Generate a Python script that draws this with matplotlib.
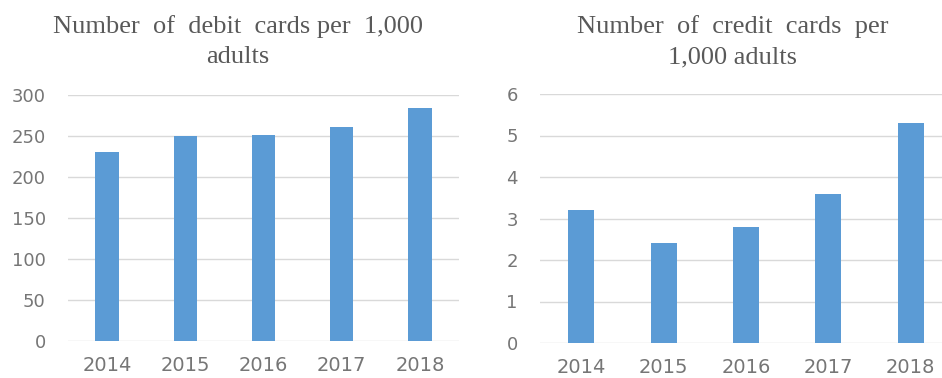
import matplotlib.pyplot as plt

# data
years = ["2014", "2015", "2016", "2017", "2018"]
debit_cards = [230, 250, 251, 261, 284]
credit_cards = [3.2, 2.4, 2.8, 3.6, 5.3]

debit_ticks = [0, 50, 100, 150, 200, 250, 300]
credit_ticks = [0, 1, 2, 3, 4, 5, 6]

debit_title = ["Number  of  debit  cards per  1,000", "adults"]
credit_title = ["Number  of  credit  cards  per", "1,000 adults"]

bar_color = "#5b9bd5"
grid_color = "#d9d9d9"
tick_color = "#767676"
title_color = "#595959"

W, H = 942, 378
fig = plt.figure(figsize=(W / 100, H / 100), dpi=100)


def px_axes(x0, x1, y_top, y_bot):
    return fig.add_axes([x0 / W, 1 - y_bot / H, (x1 - x0) / W, (y_bot - y_top) / H])


def draw_panel(ax, values, ticks, bar_w):
    x = range(len(years))
    ax.bar(x, values, width=bar_w, color=bar_color, zorder=3)
    ax.set_xlim(-0.5, len(years) - 0.5)
    ax.set_ylim(ticks[0], ticks[-1])
    ax.set_yticks(ticks)
    ax.set_xticks(list(x))
    ax.set_xticklabels(years)
    ax.yaxis.grid(True, color=grid_color, linewidth=1.0, zorder=0)
    for s in ax.spines.values():
        s.set_visible(False)
    ax.tick_params(axis="both", length=0, colors=tick_color, labelsize=13)
    ax.tick_params(axis="y", pad=16)
    ax.tick_params(axis="x", pad=11, labelsize=14)


def draw_title(xc, lines):
    for line, base in zip(lines, [33, 63]):
        fig.text(xc / W, 1 - base / H, line, ha="center", va="baseline",
                 color=title_color, family="Liberation Serif", fontsize=19)


# 왼쪽: 직불카드
ax1 = px_axes(68, 459, 95, 341)
draw_panel(ax1, debit_cards, debit_ticks, 0.3)
draw_title(238, debit_title)

# 오른쪽: 신용카드 (오른쪽 끝은 잘림)
ax2 = px_axes(540, 952, 94, 343)
draw_panel(ax2, credit_cards, credit_ticks, 0.315)
draw_title(733, credit_title)

fig.savefig("out.png", dpi=100, facecolor="white")
